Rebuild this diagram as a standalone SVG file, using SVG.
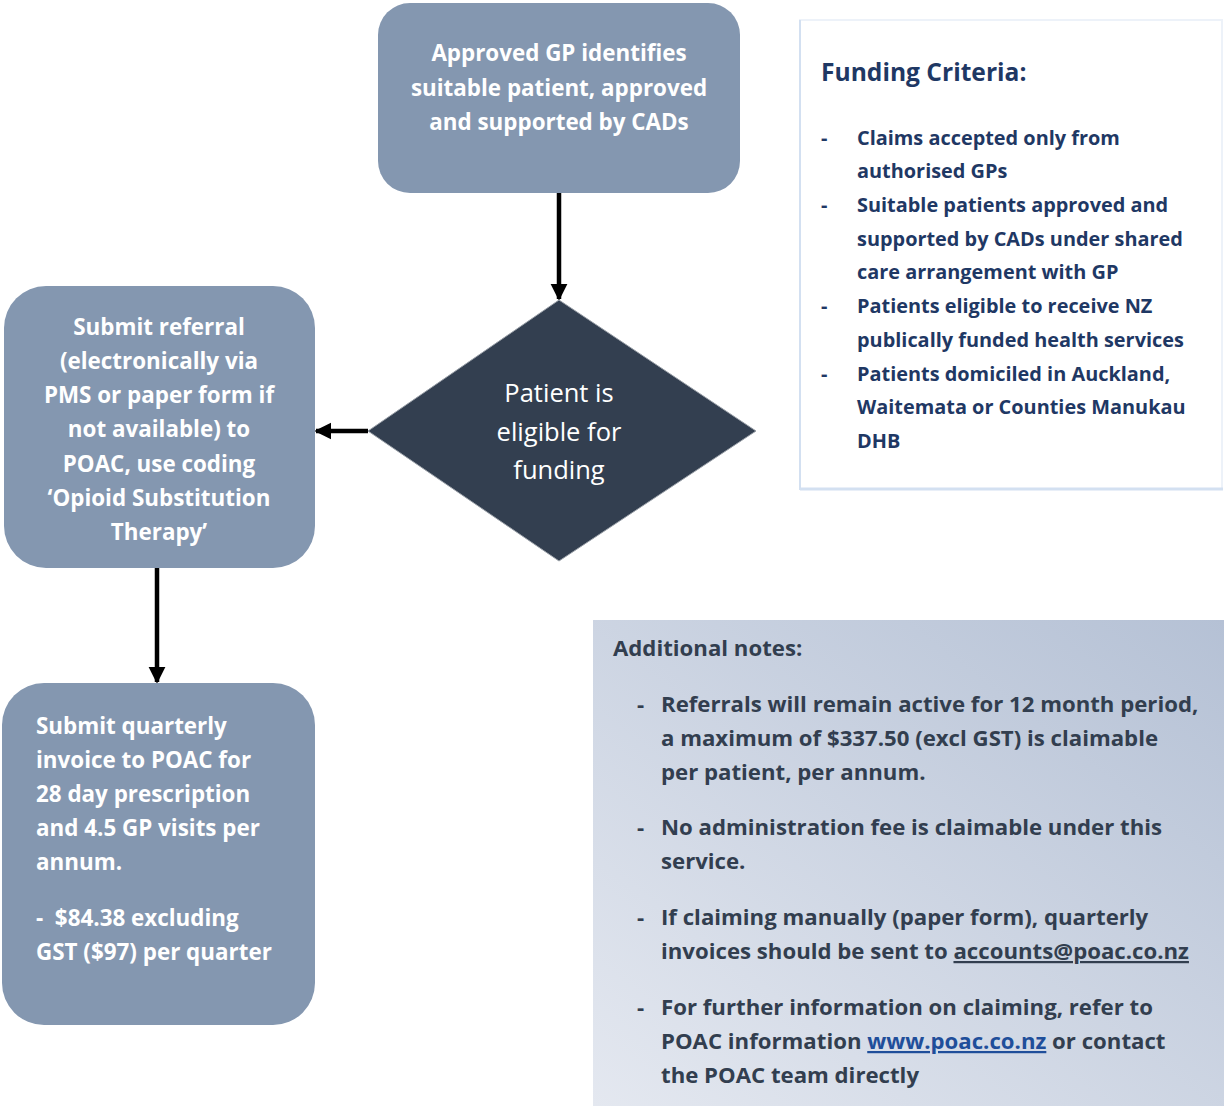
<svg xmlns="http://www.w3.org/2000/svg" width="1224" height="1106" viewBox="0 0 1224 1106">
<defs>
<style>
.node{fill:#8497b0}
.nt{font-family:"Open Sans","Liberation Sans",sans-serif;font-weight:bold;font-size:22.4px;fill:#ffffff}
.dt{font-family:"Open Sans","Liberation Sans",sans-serif;font-size:25.5px;fill:#ffffff}
.fc{font-family:"Open Sans","Liberation Sans",sans-serif;font-weight:bold;font-size:19.9px;fill:#1f3864}
.fct{font-size:24.6px}
.an{font-family:"Open Sans","Liberation Sans",sans-serif;font-weight:bold;font-size:22.2px;fill:#323e4f}
.conn{stroke:#000;stroke-width:4.5;fill:none}
</style>
<marker id="ah" viewBox="0 0 10 10" refX="9" refY="5" markerWidth="3.8" markerHeight="3.8" orient="auto" markerUnits="strokeWidth">
<path d="M0,0 L10,5 L0,10 z" fill="#000"/>
</marker>
<linearGradient id="ng" x1="0" y1="1" x2="1" y2="0">
<stop offset="0" stop-color="#e4e8f0"/>
<stop offset="1" stop-color="#b5c1d5"/>
</linearGradient>
</defs>
<rect width="1224" height="1106" fill="#ffffff"/>

<g id="connectors">
<line class="conn" x1="559" y1="193" x2="559" y2="299" marker-end="url(#ah)"/>
<line class="conn" x1="368" y1="431" x2="316" y2="431" marker-end="url(#ah)"/>
<line class="conn" x1="157" y1="568" x2="157" y2="682" marker-end="url(#ah)"/>
</g>

<g id="node-approved">
<rect class="node" x="378" y="3" width="362" height="190" rx="32"/>
<text class="nt" text-anchor="middle" x="559" y="61">Approved GP identifies</text>
<text class="nt" text-anchor="middle" x="559" y="96">suitable patient, approved</text>
<text class="nt" text-anchor="middle" x="559" y="130">and supported by CADs</text>
</g>

<g id="node-eligible">
<polygon points="559,300 756,431 559,561 368,431" fill="#333f50" stroke="#9aa0a8" stroke-width="1"/>
<text class="dt" text-anchor="middle" x="559" y="402">Patient is</text>
<text class="dt" text-anchor="middle" x="559" y="441">eligible for</text>
<text class="dt" text-anchor="middle" x="559" y="479">funding</text>
</g>

<g id="node-referral">
<rect class="node" x="4" y="286" width="311" height="282" rx="42"/>
<text class="nt" text-anchor="middle" x="159" y="335">Submit referral</text>
<text class="nt" text-anchor="middle" x="159" y="369">(electronically via</text>
<text class="nt" text-anchor="middle" x="159" y="403">PMS or paper form if</text>
<text class="nt" text-anchor="middle" x="159" y="437">not available) to</text>
<text class="nt" text-anchor="middle" x="159" y="472">POAC, use coding</text>
<text class="nt" text-anchor="middle" x="159" y="506">‘Opioid Substitution</text>
<text class="nt" text-anchor="middle" x="159" y="540">Therapy’</text>
</g>

<g id="node-invoice">
<rect class="node" x="2" y="683" width="313" height="342" rx="42"/>
<text class="nt" x="36" y="734">Submit quarterly</text>
<text class="nt" x="36" y="768">invoice to POAC for</text>
<text class="nt" x="36" y="802">28 day prescription</text>
<text class="nt" x="36" y="836">and 4.5 GP visits per</text>
<text class="nt" x="36" y="870">annum.</text>
<text class="nt" x="36" y="926" xml:space="preserve">-  $84.38 excluding</text>
<text class="nt" x="36" y="960">GST ($97) per quarter</text>
</g>

<g id="funding-criteria">
<rect x="800" y="20" width="422" height="469" fill="#ffffff" stroke="#edf2f9" stroke-width="2"/>
<line x1="800" y1="20" x2="800" y2="490" stroke="#d3e0f1" stroke-width="2"/>
<line x1="800" y1="489" x2="1223" y2="489" stroke="#d3e0f1" stroke-width="3"/>
<text class="fc fct" x="821" y="81">Funding Criteria:</text>
<text class="fc" x="821" y="145">-</text>
<text class="fc" x="857" y="145">Claims accepted only from</text>
<text class="fc" x="857" y="178">authorised GPs</text>
<text class="fc" x="821" y="212">-</text>
<text class="fc" x="857" y="212">Suitable patients approved and</text>
<text class="fc" x="857" y="246">supported by CADs under shared</text>
<text class="fc" x="857" y="279">care arrangement with GP</text>
<text class="fc" x="821" y="313">-</text>
<text class="fc" x="857" y="313">Patients eligible to receive NZ</text>
<text class="fc" x="857" y="347">publically funded health services</text>
<text class="fc" x="821" y="381">-</text>
<text class="fc" x="857" y="381">Patients domiciled in Auckland,</text>
<text class="fc" x="857" y="414">Waitemata or Counties Manukau</text>
<text class="fc" x="857" y="448">DHB</text>
</g>

<g id="additional-notes">
<rect x="593" y="620" width="631" height="486" fill="url(#ng)"/>
<text class="an" x="613" y="656">Additional notes:</text>
<text class="an" x="637" y="712">-</text>
<text class="an" x="661" y="712">Referrals will remain active for 12 month period,</text>
<text class="an" x="661" y="746">a maximum of $337.50 (excl GST) is claimable</text>
<text class="an" x="661" y="780">per patient, per annum.</text>
<text class="an" x="637" y="835">-</text>
<text class="an" x="661" y="835">No administration fee is claimable under this</text>
<text class="an" x="661" y="869">service.</text>
<text class="an" x="637" y="925">-</text>
<text class="an" x="661" y="925">If claiming manually (paper form), quarterly</text>
<text class="an" x="661" y="959">invoices should be sent to <tspan text-decoration="underline">accounts@poac.co.nz</tspan></text>
<text class="an" x="637" y="1015">-</text>
<text class="an" x="661" y="1015">For further information on claiming, refer to</text>
<text class="an" x="661" y="1049">POAC information <tspan fill="#1f4e9a" text-decoration="underline">www.poac.co.nz</tspan> or contact</text>
<text class="an" x="661" y="1083">the POAC team directly</text>
</g>
</svg>
